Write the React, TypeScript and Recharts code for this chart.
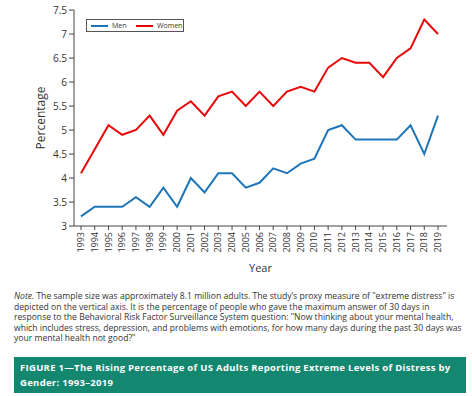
import React from 'react';
import { LineChart, Line, XAxis, YAxis, Legend } from 'recharts';

const years = [1993, 1994, 1995, 1996, 1997, 1998, 1999, 2000, 2001, 2002, 2003, 2004, 2005, 2006, 2007, 2008, 2009, 2010, 2011, 2012, 2013, 2014, 2015, 2016, 2017, 2018, 2019];
const men = [3.2, 3.4, 3.4, 3.4, 3.6, 3.4, 3.8, 3.4, 4.0, 3.7, 4.1, 4.1, 3.8, 3.9, 4.2, 4.1, 4.3, 4.4, 5.0, 5.1, 4.8, 4.8, 4.8, 4.8, 5.1, 4.5, 5.3];
const women = [4.1, 4.6, 5.1, 4.9, 5.0, 5.3, 4.9, 5.4, 5.6, 5.3, 5.7, 5.8, 5.5, 5.8, 5.5, 5.8, 5.9, 5.8, 6.3, 6.5, 6.4, 6.4, 6.1, 6.5, 6.7, 7.3, 7.0];
const yTicks = [3, 3.5, 4, 4.5, 5, 5.5, 6, 6.5, 7, 7.5];

const noteLines = [
  ' The sample size was approximately 8.1 million adults. The study\u2019s proxy measure of "extreme distress" is',
  'depicted on the vertical axis. It is the percentage of people who gave the maximum answer of 30 days in',
  'response to the Behavioral Risk Factor Surveillance System question: "Now thinking about your mental health,',
  'which includes stress, depression, and problems with emotions, for how many days during the past 30 days was',
  'your mental health not good?"',
];
const captionLines = [
  'FIGURE 1\u2014The Rising Percentage of US Adults Reporting Extreme Levels of Distress by',
  'Gender: 1993\u20132019',
];

const data = years.map((y, i) => ({ year: y, Men: men[i], Women: women[i] }));

const FONT = '"Open Sans", "Noto Sans", sans-serif';
const TEXT = '#333333';

const XTick = (props: any) => {
  const { x, y, payload } = props;
  return (
    <g transform={`translate(${x},${y})`}>
      <text transform="rotate(-90)" textAnchor="end" dy="0.34em" fontSize={9} fill={TEXT} fontFamily={FONT}>
        {payload.value}
      </text>
    </g>
  );
};

const YTick = (props: any) => {
  const { x, y, payload } = props;
  return (
    <text x={x} y={y} textAnchor="end" dy="0.35em" fontSize={10} fill={TEXT} fontFamily={FONT}>
      {payload.value}
    </text>
  );
};

const renderLegend = (props: any) => {
  const { payload } = props;
  const lefts = [4, 49];
  return (
    <div
      style={{
        position: 'relative',
        border: '1px solid #555',
        height: 13,
        width: 98,
        boxSizing: 'border-box',
        fontFamily: FONT,
        fontSize: 7,
        color: TEXT,
        background: '#fff',
      }}
    >
      {payload.map((p: any, i: number) => (
        <div
          key={i}
          style={{ position: 'absolute', left: lefts[i], top: 0, height: 11, display: 'flex', alignItems: 'center', whiteSpace: 'nowrap' }}
        >
          <div style={{ width: 17, height: 2, background: p.color, marginRight: 4 }} />
          <span style={{ lineHeight: '11px' }}>{p.value}</span>
        </div>
      ))}
    </div>
  );
};

export default function App() {
  return (
    <div style={{ position: 'absolute', left: 0, top: 0, width: 472, height: 396, background: '#fff', overflow: 'hidden' }}>
      <div style={{ position: 'absolute', left: 0, top: 0 }}>
        <LineChart width={472} height={282} data={data} margin={{ top: 10, right: 25, left: 0, bottom: 8 }}>
          <XAxis
            dataKey="year"
            type="number"
            domain={[1993, 2019]}
            ticks={years}
            interval={0}
            padding={{ left: 7, right: 9 }}
            height={48}
            tickSize={4}
            tickMargin={2}
            tick={<XTick />}
            stroke="#444"
            tickLine={{ stroke: '#444' }}
            label={{ value: 'Year', position: 'insideBottom', offset: 2, fontSize: 11, fill: TEXT, fontFamily: FONT }}
          />
          <YAxis
            type="number"
            domain={[3, 7.5]}
            ticks={yTicks}
            interval={0}
            width={74}
            tickSize={5}
            tickMargin={2}
            tick={<YTick />}
            stroke="#444"
            tickLine={{ stroke: '#444' }}
            label={({ viewBox }: any) => (
              <text
                x={viewBox.x + 40}
                y={viewBox.y + viewBox.height / 2}
                transform={`rotate(-90, ${viewBox.x + 40}, ${viewBox.y + viewBox.height / 2})`}
                textAnchor="middle"
                dominantBaseline="central"
                fontSize={12}
                fill={TEXT}
                fontFamily={FONT}
              >
                Percentage
              </text>
            )}
          />
          <Legend
            content={renderLegend}
            layout="horizontal"
            verticalAlign="middle"
            align="center"
            width={98}
            wrapperStyle={{ left: 86, top: 19, width: 98 }}
          />
          <Line type="linear" dataKey="Men" stroke="#1c75b9" strokeWidth={2} dot={false} isAnimationActive={false} />
          <Line type="linear" dataKey="Women" stroke="#e8080a" strokeWidth={2} dot={false} isAnimationActive={false} />
        </LineChart>
      </div>
      <div style={{ position: 'absolute', left: 14, top: 291, fontFamily: FONT, fontSize: 8.6, lineHeight: '10.6px', color: TEXT, whiteSpace: 'nowrap' }}>
        {noteLines.map((l, i) => (
          <div key={i}>
            {i === 0 ? <i>Note.</i> : null}
            {l}
          </div>
        ))}
      </div>
      <div
        style={{
          position: 'absolute',
          left: 14,
          top: 357,
          width: 452,
          height: 36,
          background: '#13876f',
          color: '#fff',
          fontFamily: FONT,
          fontWeight: 700,
          fontSize: 9.5,
          letterSpacing: 0.3,
          lineHeight: '15px',
          boxSizing: 'border-box',
          paddingLeft: 6,
          paddingTop: 3,
          whiteSpace: 'nowrap',
        }}
      >
        {captionLines.map((l, i) => (
          <div key={i}>{l}</div>
        ))}
      </div>
    </div>
  );
}
